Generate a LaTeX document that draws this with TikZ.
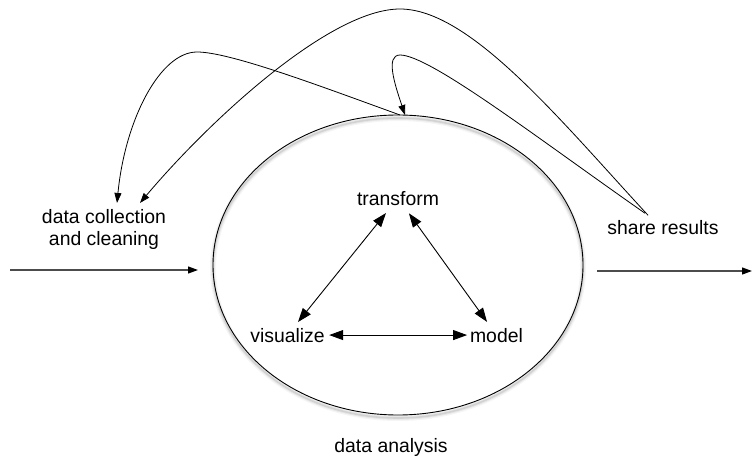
\documentclass[tikz,border=0pt]{standalone}
\usepackage{fontspec}
\setmainfont{Liberation Sans}
\usetikzlibrary{arrows.meta,shapes.geometric}
\begin{document}
\begin{tikzpicture}[x=1pt,y=-1pt,
  lbl/.style={font=\fontsize{19.4}{22}\selectfont, inner sep=2pt, outer sep=0pt},
  bigtip/.style={line width=0.9pt, {Triangle[length=14pt,width=10pt]}-{Triangle[length=14pt,width=10pt]}},
  curv/.style={line width=0.8pt, -{Triangle[length=10pt,width=7pt]}},
  flow/.style={draw=black!70, line width=1.2pt, -{Triangle[length=10pt,width=7pt,color=black]}},
  circ/.style={draw, ellipse, minimum width=370pt, minimum height=300pt, inner sep=0pt, outer sep=0pt, line width=0.9pt}
]
\useasboundingbox (0,0) rectangle (752,457);
% soft shadow of the ellipse outline
\foreach \w/\o in {6/0.04, 3.5/0.06, 1.6/0.09}
  \draw[black, opacity=\o, line width=\w pt] (398,268) ellipse [x radius=185pt, y radius=150pt];
\node[circ] (da) at (398,265) {};
\node[lbl, anchor=base] (dal) at (391,452) {data analysis};

\node[lbl, anchor=base] (t) at (398,205) {transform};
\node[lbl, anchor=base] (v) at (287.5,342) {visualize};
\node[lbl, anchor=base] (m) at (496.5,342) {model};

\node[lbl, align=center, inner sep=3pt] (dc) at (104,229) {data collection\\and cleaning};
\node[lbl, anchor=base, inner sep=3pt] (sr) at (663,234) {share results};

\coordinate (in) at (10,270);
\coordinate (out) at (752,271);

% triangle
\draw[bigtip, shorten <=7.5pt, shorten >=5pt] (t) -- (v);
\draw[bigtip, shorten <=7.5pt, shorten >=5pt] (t) -- (m);
\draw[bigtip, shorten <=2.5pt, shorten >=1pt] (v) -- (m);

% in / out
\draw[flow, shorten >=15pt] (in) -- (in -| da.west);
\draw[flow, shorten <=14pt] (out -| da.east) -- (out);

% feedback curves
\draw[curv] ([xshift=2pt]da.north) .. controls (320,86) and (230,52) .. (197,52)
  .. controls (160,52) and (125,120) .. ([xshift=13pt,yshift=3pt]dc.north);
\draw[curv] ([xshift=-15pt,yshift=1.7pt]sr.north) .. controls (560,120) and (470,9) .. (400,9)
  .. controls (330,9) and (210,120) .. ([xshift=36pt,yshift=3pt]dc.north);
\draw[curv] ([xshift=-18pt,yshift=3.7pt]sr.north) .. controls (540,140) and (430,55) .. (400,55)
  .. controls (385,55) and (395,85) .. ([xshift=7pt]da.north);
\end{tikzpicture}
\end{document}
